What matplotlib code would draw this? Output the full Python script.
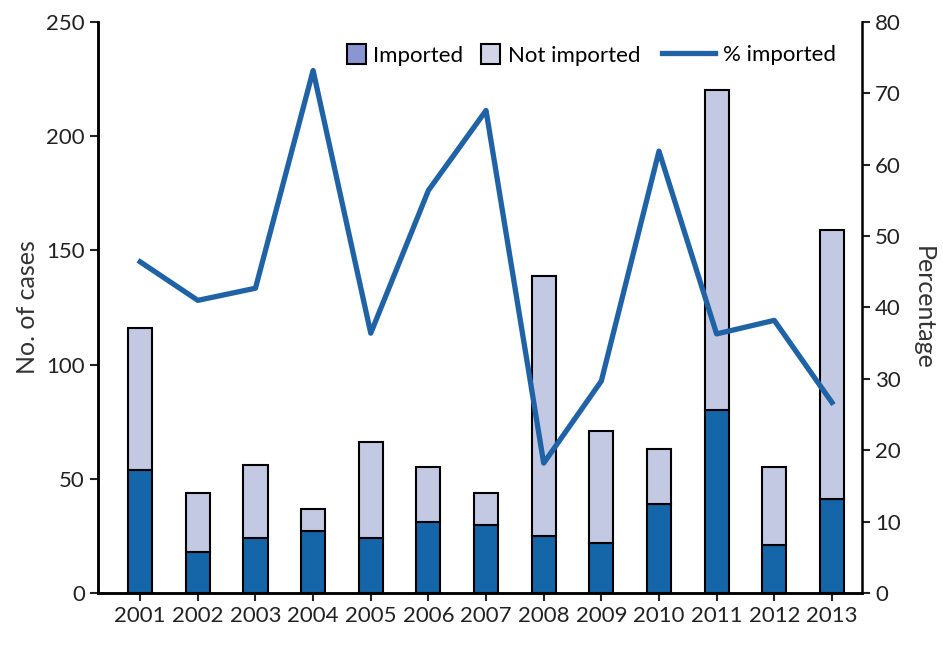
import numpy as np
import matplotlib.pyplot as plt
from matplotlib.patches import Patch
from matplotlib.lines import Line2D

plt.rcParams['font.family'] = ['Lato', 'DejaVu Sans']

years = ['2001', '2002', '2003', '2004', '2005', '2006', '2007',
         '2008', '2009', '2010', '2011', '2012', '2013']
imported = [54, 18, 24, 27, 24, 31, 30, 25, 22, 39, 80, 21, 41]
total = [116, 44, 56, 37, 66, 55, 44, 139, 71, 63, 220, 55, 159]
pct_imported = [46.4, 41.0, 42.7, 73.2, 36.4, 56.4, 67.6, 18.2, 29.7, 61.9, 36.3, 38.2, 26.7]

dark = '#1565a9'
light = '#c3c9e3'
line_c = '#1f63a6'

fig = plt.figure(figsize=(9.43, 6.46), dpi=100)
ax = fig.add_axes([0.104, 0.082, 0.81, 0.884])
x = np.arange(len(years))
not_imp = [t - i for t, i in zip(total, imported)]

ax.bar(x, imported, width=0.42, color=dark, edgecolor='black', linewidth=1.5, zorder=2)
ax.bar(x, not_imp, width=0.42, bottom=imported, color=light, edgecolor='black', linewidth=1.5, zorder=2)

ax.set_xlim(-0.73, 12.52)
ax.set_ylim(0, 250)
ax.set_yticks(range(0, 251, 50))
ax.set_xticks(x)
ax.set_xticklabels(years)
ax.set_ylabel('No. of cases', fontsize=18, color='#333333', labelpad=5)

ax2 = ax.twinx()
ax2.plot(x, pct_imported, color=line_c, linewidth=3.8, zorder=3)
ax2.set_ylim(0, 80)
ax2.set_yticks(range(0, 81, 10))
ax2.set_ylabel('Percentage', fontsize=18, color='#333333', rotation=-90, labelpad=24)

for a in (ax, ax2):
    a.tick_params(labelsize=16, width=1.5, length=6, direction='out', colors='#222222')
    for s in a.spines.values():
        s.set_linewidth(1.8)
    a.spines['top'].set_visible(False)
ax.spines['right'].set_visible(False)

# legend in two parts: square boxes, then the longer line key
p_imp = Patch(facecolor='#8a96d2', edgecolor='black', linewidth=1.5)
p_not = Patch(facecolor='#d2d5e8', edgecolor='black', linewidth=1.5)
leg1 = ax2.legend([p_imp, p_not], ['Imported', 'Not imported'], ncol=2, frameon=False,
                  loc='center right', bbox_to_anchor=(0.71, 0.942), fontsize=16,
                  handlelength=0.85, handleheight=1.0, handletextpad=0.35,
                  columnspacing=0.8, borderpad=0, borderaxespad=0)
ax2.add_artist(leg1)
l_pct = Line2D([0], [0], color=line_c, linewidth=3.8)
ax2.legend([l_pct], ['% imported'], frameon=False, loc='center right',
           bbox_to_anchor=(0.966, 0.942), fontsize=16, handlelength=2.4,
           handletextpad=0.35, borderpad=0, borderaxespad=0)

fig.savefig('out.png', dpi=100)
